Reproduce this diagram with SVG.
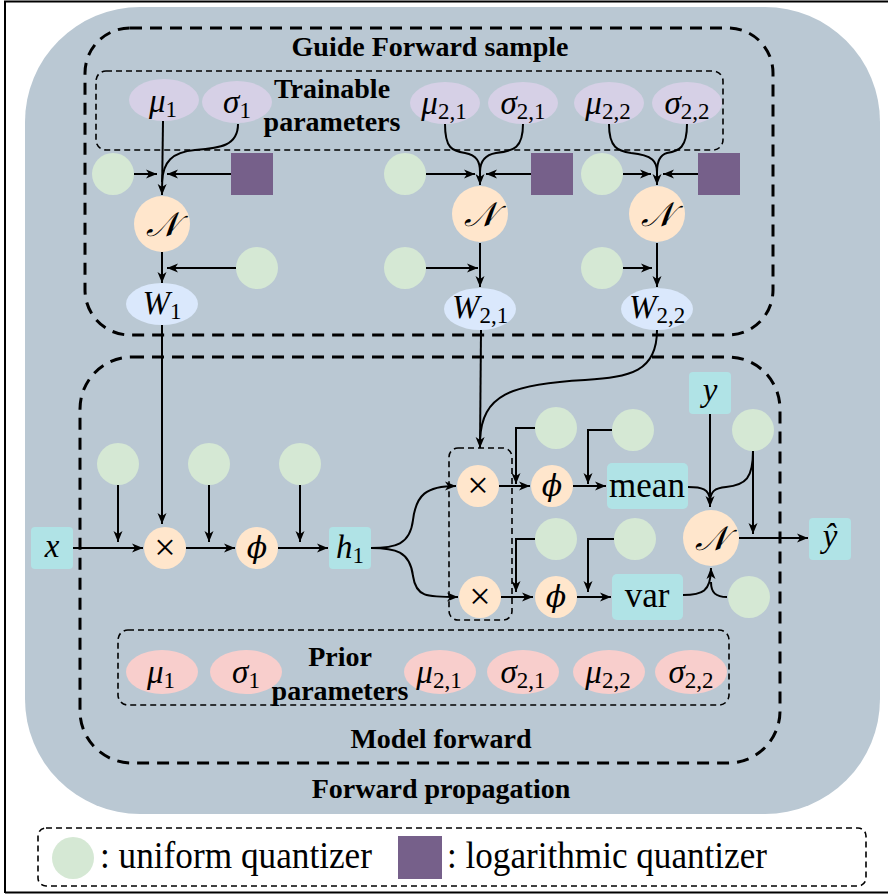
<svg xmlns="http://www.w3.org/2000/svg" width="888" height="895" viewBox="0 0 888 895">
<defs>
  <marker id="arr" markerUnits="userSpaceOnUse" markerWidth="12" markerHeight="10" refX="11" refY="5" orient="auto">
    <path d="M0,0.5 L11,5 L0,9.5 L3,5 Z" fill="#000"/>
  </marker>
</defs>
<style>
  .bg{fill:#bac8d3}
  .big{fill:none;stroke:#000;stroke-width:3;stroke-dasharray:12 8}
  .thin{fill:none;stroke:#000;stroke-width:1.6;stroke-dasharray:6 4}
  .uq{fill:#d5e8d4}
  .lq{fill:#76608a}
  .tp{fill:#d6d0e6}
  .pp{fill:#f8cecc}
  .op{fill:#ffe6cc}
  .w{fill:#dae8fc}
  .box{fill:#b0e3e6}
  text{font-family:'Liberation Serif','Times New Roman',Tinos,'DejaVu Serif',serif;fill:#000}
  .lbl{font-weight:bold;font-size:28px;text-anchor:middle}
  .m{font-size:33px;text-anchor:middle}
  .i{font-style:italic}
  .s{font-size:23px;font-style:normal}
  .x{font-size:38px;text-anchor:middle}
  .cal{font-family:'DejaVu Serif','DejaVu Sans','Noto Sans',serif;font-style:italic;font-size:34px;text-anchor:middle}
  .phi{font-family:'DejaVu Serif',serif;font-style:italic;font-size:30px;text-anchor:middle}
  .word{font-size:35px;text-anchor:middle}
  .leg{font-size:38px}
  .e{fill:none;stroke:#000;stroke-width:2}
  .a{fill:none;stroke:#000;stroke-width:2;marker-end:url(#arr)}
</style>

<!-- page frame -->
<rect x="0" y="0" width="888" height="895" fill="#fff"/>
<path d="M5,893 V1.5 H888 M5,892.5 H888" fill="none" stroke="#000" stroke-width="2"/>

<!-- forward propagation panel -->
<g id="forward-propagation">
  <rect class="bg" x="25" y="7" width="855" height="807" rx="115" ry="115"/>
  <text class="lbl" x="441" y="798">Forward propagation</text>
</g>

<!-- guide sampling region -->
<g id="guide-forward-sample">
  <rect class="big" x="85" y="28" width="688" height="307" rx="45" ry="45"/>
  <text class="lbl" x="430" y="56">Guide Forward sample</text>
</g>

<g id="trainable-parameters">
  <rect class="thin" x="96" y="71" width="627" height="79" rx="10" ry="10"/>
  <text class="lbl" x="332" y="98">Trainable</text>
  <text class="lbl" x="332" y="131">parameters</text>
</g>

<g id="model-forward">
  <rect class="big" x="80" y="357" width="700" height="406" rx="52" ry="52"/>
  <text class="lbl" x="441" y="748">Model forward</text>
</g>

<g id="prior-parameters">
  <rect class="thin" x="118" y="630" width="611" height="75" rx="10" ry="10"/>
  <text class="lbl" x="340" y="666">Prior</text>
  <text class="lbl" x="340" y="700">parameters</text>
</g>

<g id="mult-group">
  <rect class="thin" x="449" y="448" width="63" height="172" rx="9" ry="9"/>
</g>

<!-- connectors -->
<g id="connectors">
  <!-- column 1 -->
  <path class="a" d="M163,121 L162,195"/>
  <path class="e" d="M238,124 C238,146 220,148 195,150 C172,152 163,162 162,182"/>
  <path class="a" d="M134,174 L157,174"/>
  <path class="a" d="M231,174 L167,174"/>
  <path class="a" d="M162,252 L162,283"/>
  <path class="a" d="M236,268 L167,268"/>
  <!-- column 2 -->
  <path class="e" d="M445,124 C445,148 452,151 465,153 C477,155 480,162 480,172"/>
  <path class="e" d="M523,124 C523,148 514,151 496,153 C484,155 480,162 480,172"/>
  <path class="a" d="M480,170 L480,185"/>
  <path class="a" d="M426,174 L475,174"/>
  <path class="a" d="M531,174 L486,174"/>
  <path class="a" d="M480,243 L480,287"/>
  <path class="a" d="M426,268 L478,268"/>
  <!-- column 3 -->
  <path class="e" d="M609,124 C609,148 618,151 631,153 C653,155 657,162 657,172"/>
  <path class="e" d="M687,124 C687,148 679,151 667,153 C660,155 657,162 657,172"/>
  <path class="a" d="M657,170 L657,185"/>
  <path class="a" d="M623,174 L651,174"/>
  <path class="a" d="M698,174 L663,174"/>
  <path class="a" d="M657,243 L657,287"/>
  <path class="a" d="M623,268 L652,268"/>
  <!-- sampled weights into the model -->
  <path class="a" d="M162,325 L162,524"/>
  <path class="a" d="M481,330 L480,448"/>
  <path class="e" d="M657,330 C657,372 630,377 585,380 C510,384 482,395 480,440"/>
  <!-- first layer -->
  <path class="a" d="M73,548 L143,548"/>
  <path class="a" d="M118,485 L118,542"/>
  <path class="a" d="M186,548 L235,548"/>
  <path class="a" d="M209,485 L209,542"/>
  <path class="a" d="M278,548 L328,548"/>
  <path class="a" d="M300,485 L300,542"/>
  <path class="a" d="M371,548 C395,548 410,545 413,520 C416,495 426,486 456,486"/>
  <path class="a" d="M371,548 C395,548 410,551 413,576 C416,597 426,597 458,597"/>
  <!-- mean branch -->
  <path class="a" d="M499,486 L530,486"/>
  <path class="a" d="M535,428 H516 V484"/>
  <path class="a" d="M573,486 L606,486"/>
  <path class="a" d="M612,430 H588 V484"/>
  <!-- var branch -->
  <path class="a" d="M501,597 L533,597"/>
  <path class="a" d="M535,539 H516 V592"/>
  <path class="a" d="M577,597 L611,597"/>
  <path class="a" d="M614,539 H588 V592"/>
  <!-- output distribution -->
  <path class="a" d="M710,414 L710,507"/>
  <path class="e" d="M688,487 C702,487 709,489 710,500"/>
  <path class="e" d="M753,451 C753,478 746,485 726,487 C714,488 711,492 710,500"/>
  <path class="a" d="M753,451 L753,534"/>
  <path class="a" d="M683,595 C702,595 711,592 711,568"/>
  <path class="e" d="M727,597 C716,597 711,593 711,582"/>
  <path class="a" d="M739,538 L808,538"/>
</g>

<!-- trainable parameter nodes -->
<g id="mu1-q"><ellipse class="tp" cx="164" cy="100" rx="35" ry="21"/><text class="m" x="163" y="112"><tspan class="i">μ</tspan><tspan class="s" dy="5">1</tspan></text></g>
<g id="sigma1-q"><ellipse class="tp" cx="237" cy="102" rx="35" ry="21"/><text class="m" x="237" y="113"><tspan class="i">σ</tspan><tspan class="s" dy="5">1</tspan></text></g>
<g id="mu21-q"><ellipse class="tp" cx="445" cy="103" rx="35" ry="21"/><text class="m" x="444" y="114"><tspan class="i">μ</tspan><tspan class="s" dy="5">2,1</tspan></text></g>
<g id="sigma21-q"><ellipse class="tp" cx="523" cy="103" rx="35" ry="21"/><text class="m" x="523" y="114"><tspan class="i">σ</tspan><tspan class="s" dy="5">2,1</tspan></text></g>
<g id="mu22-q"><ellipse class="tp" cx="609" cy="103" rx="35" ry="21"/><text class="m" x="608" y="114"><tspan class="i">μ</tspan><tspan class="s" dy="5">2,2</tspan></text></g>
<g id="sigma22-q"><ellipse class="tp" cx="687" cy="103" rx="35" ry="21"/><text class="m" x="687" y="114"><tspan class="i">σ</tspan><tspan class="s" dy="5">2,2</tspan></text></g>

<!-- quantizers in the guide -->
<g id="uq-g1"><circle class="uq" cx="113" cy="174" r="21"/></g>
<g id="lq-g1"><rect class="lq" x="231" y="153" width="42" height="42"/></g>
<g id="uq-g2"><circle class="uq" cx="405" cy="174" r="21"/></g>
<g id="lq-g2"><rect class="lq" x="531" y="153" width="42" height="42"/></g>
<g id="uq-g3"><circle class="uq" cx="602" cy="174" r="21"/></g>
<g id="lq-g3"><rect class="lq" x="698" y="153" width="42" height="42"/></g>
<g id="uq-g4"><circle class="uq" cx="257" cy="268" r="21"/></g>
<g id="uq-g5"><circle class="uq" cx="405" cy="268" r="21"/></g>
<g id="uq-g6"><circle class="uq" cx="602" cy="268" r="21"/></g>

<!-- sampling nodes -->
<g id="normal-1"><circle class="op" cx="162" cy="224" r="28"/><text class="cal" x="162" y="236">𝒩</text></g>
<g id="normal-21"><circle class="op" cx="480" cy="214" r="28"/><text class="cal" x="480" y="226">𝒩</text></g>
<g id="normal-22"><circle class="op" cx="657" cy="214" r="28"/><text class="cal" x="657" y="226">𝒩</text></g>

<!-- sampled weights -->
<g id="w1"><ellipse class="w" cx="162" cy="304" rx="36" ry="21"/><text class="m" x="162" y="314"><tspan class="i">W</tspan><tspan class="s" dy="5">1</tspan></text></g>
<g id="w21"><ellipse class="w" cx="480" cy="309" rx="36" ry="21"/><text class="m" x="480" y="318"><tspan class="i">W</tspan><tspan class="s" dy="5">2,1</tspan></text></g>
<g id="w22"><ellipse class="w" cx="657" cy="309" rx="36" ry="21"/><text class="m" x="657" y="318"><tspan class="i">W</tspan><tspan class="s" dy="5">2,2</tspan></text></g>

<!-- model forward nodes -->
<g id="x"><rect class="box" x="31" y="527" width="42" height="42" rx="4"/><text class="m i" x="52" y="557">x</text></g>
<g id="uq-m1"><circle class="uq" cx="118" cy="464" r="21"/></g>
<g id="uq-m2"><circle class="uq" cx="209" cy="464" r="21"/></g>
<g id="uq-m3"><circle class="uq" cx="300" cy="464" r="21"/></g>
<g id="mul-1"><circle class="op" cx="165" cy="548" r="21"/><text class="x" x="165" y="560">×</text></g>
<g id="phi-1"><circle class="op" cx="257" cy="548" r="21"/><text class="phi" x="257" y="558">ϕ</text></g>
<g id="h1"><rect class="box" x="329" y="527" width="42" height="42" rx="4"/><text class="m" x="350" y="558"><tspan class="i">h</tspan><tspan class="s" dy="5">1</tspan></text></g>

<g id="mul-mean"><circle class="op" cx="478" cy="486" r="21"/><text class="x" x="478" y="498">×</text></g>
<g id="mul-var"><circle class="op" cx="480" cy="597" r="21"/><text class="x" x="480" y="609">×</text></g>
<g id="uq-m4"><circle class="uq" cx="556" cy="428" r="21"/></g>
<g id="uq-m5"><circle class="uq" cx="633" cy="430" r="21"/></g>
<g id="uq-m6"><circle class="uq" cx="556" cy="539" r="21"/></g>
<g id="uq-m7"><circle class="uq" cx="635" cy="539" r="21"/></g>
<g id="phi-mean"><circle class="op" cx="552" cy="486" r="21"/><text class="phi" x="552" y="496">ϕ</text></g>
<g id="phi-var"><circle class="op" cx="556" cy="597" r="21"/><text class="phi" x="556" y="607">ϕ</text></g>
<g id="mean"><rect class="box" x="607" y="463" width="81" height="46" rx="5"/><text class="word" x="647" y="497">mean</text></g>
<g id="var"><rect class="box" x="612" y="574" width="71" height="46" rx="5"/><text class="word" x="647" y="607">var</text></g>
<g id="y"><rect class="box" x="689" y="372" width="42" height="42" rx="4"/><text class="m i" x="710" y="401">y</text></g>
<g id="uq-m8"><circle class="uq" cx="753" cy="430" r="21"/></g>
<g id="uq-m9"><circle class="uq" cx="749" cy="597" r="21"/></g>
<g id="normal-out"><circle class="op" cx="711" cy="538" r="28"/><text class="cal" x="711" y="550">𝒩</text></g>
<g id="y-hat"><rect class="box" x="809" y="518" width="42" height="42" rx="4"/><text class="m i" x="830" y="547">ŷ</text></g>

<!-- prior parameter nodes -->
<g id="mu1-p"><ellipse class="pp" cx="162" cy="672" rx="36" ry="22"/><text class="m" x="161" y="683"><tspan class="i">μ</tspan><tspan class="s" dy="5">1</tspan></text></g>
<g id="sigma1-p"><ellipse class="pp" cx="246" cy="672" rx="36" ry="22"/><text class="m" x="246" y="683"><tspan class="i">σ</tspan><tspan class="s" dy="5">1</tspan></text></g>
<g id="mu21-p"><ellipse class="pp" cx="440" cy="672" rx="36" ry="22"/><text class="m" x="439" y="683"><tspan class="i">μ</tspan><tspan class="s" dy="5">2,1</tspan></text></g>
<g id="sigma21-p"><ellipse class="pp" cx="523" cy="672" rx="36" ry="22"/><text class="m" x="523" y="683"><tspan class="i">σ</tspan><tspan class="s" dy="5">2,1</tspan></text></g>
<g id="mu22-p"><ellipse class="pp" cx="609" cy="672" rx="36" ry="22"/><text class="m" x="608" y="683"><tspan class="i">μ</tspan><tspan class="s" dy="5">2,2</tspan></text></g>
<g id="sigma22-p"><ellipse class="pp" cx="691" cy="672" rx="36" ry="22"/><text class="m" x="691" y="683"><tspan class="i">σ</tspan><tspan class="s" dy="5">2,2</tspan></text></g>

<!-- legend -->
<g id="legend">
  <rect class="thin" x="38" y="828" width="828" height="58" rx="8" ry="8"/>
  <circle class="uq" cx="73" cy="858" r="21"/>
  <text class="leg" x="100" y="868" textLength="272" lengthAdjust="spacingAndGlyphs">: uniform quantizer</text>
  <rect class="lq" x="398" y="836" width="44" height="43"/>
  <text class="leg" x="447" y="868" textLength="320" lengthAdjust="spacingAndGlyphs">: logarithmic quantizer</text>
</g>
</svg>
